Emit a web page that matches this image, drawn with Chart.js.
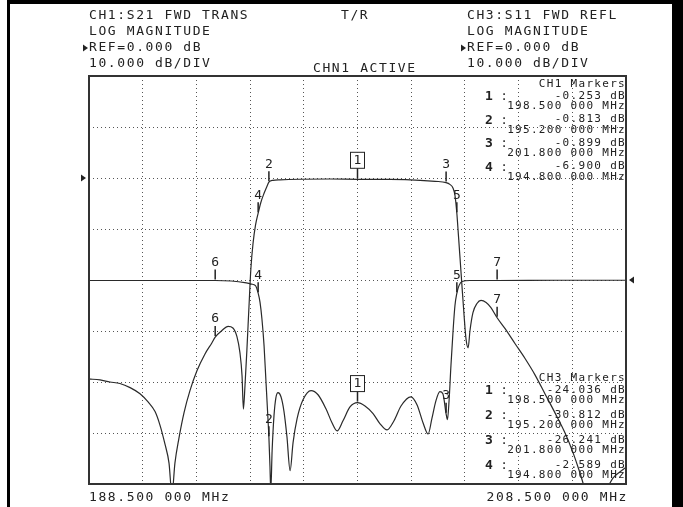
<!DOCTYPE html>
<html>
<head>
<meta charset="utf-8">
<script src="https://cdn.jsdelivr.net/npm/chart.js@4.4.1/dist/chart.umd.min.js"></script>
<style>
  html, body { margin: 0; padding: 0; background: #fff; }
  #wrap { position: relative; width: 683px; height: 507px; }
</style>
</head>
<body>
<div id="wrap"><canvas id="c" width="683" height="507"></canvas></div>
<script>
// CH1 S21 FWD TRANS, MHz / dB
const s21Freq = [188.5, 188.91, 189.28, 189.65, 190.03, 190.40, 190.70, 190.96, 191.14, 191.33, 191.48, 191.59,
  191.70, 191.85, 192.04, 192.26, 192.52, 192.82, 193.08, 193.2, 193.45, 193.68, 193.86, 194.01, 194.12, 194.20,
  194.25, 194.31, 194.38, 194.46, 194.53, 194.61, 194.70, 194.80, 194.90, 195.02, 195.13, 195.20, 195.35, 195.61,
  196.36, 197.48, 198.50, 199.71, 200.83, 201.39, 201.80, 201.94, 202.06, 202.13, 202.20, 202.26, 202.32, 202.39,
  202.47, 202.54, 202.62, 202.69, 202.80, 202.95, 203.10, 203.29, 203.47, 203.70, 203.99, 204.37, 204.74, 205.11,
  205.48, 205.86, 206.23, 206.53, 206.79, 207.01, 207.35, 207.72, 208.02, 208.28, 208.5];
const s21Db = [-39.4, -39.6, -40.0, -40.3, -41.1, -42.3, -43.9, -45.8, -48.4, -52.2, -55.9, -62,
  -55.9, -51.0, -46.0, -41.7, -37.8, -34.5, -32.3, -31.2, -29.9, -29.1, -29.4, -31.1, -34.2, -38.8,
  -45.3, -40.7, -33.8, -25.0, -17.7, -12.8, -9.3, -6.9, -4.8, -3.0, -1.6, -0.813, -0.45, -0.35,
  -0.25, -0.2, -0.253, -0.28, -0.45, -0.65, -0.899, -1.25, -2.0, -3.4, -6.9, -11.3, -15.8, -21.1,
  -27.0, -31.5, -33.3, -29.9, -26.4, -24.6, -24.0, -24.4, -25.4, -27.4, -29.5, -32.5, -35.4, -38.6,
  -42.3, -46.1, -50.0, -53.9, -57.9, -61.4, -62.4, -61.4, -58.8, -57.6, -56.7];

// CH3 S11 FWD REFL, MHz / dB
const s11Freq = [188.5, 190.0, 192.0, 193.2, 193.8, 194.3, 194.55, 194.70, 194.80, 194.87, 194.94, 195.02, 195.09,
  195.15, 195.20, 195.24, 195.27, 195.32, 195.39, 195.46, 195.54, 195.65, 195.76, 195.87, 195.99, 196.10, 196.25,
  196.47, 196.77, 197.03, 197.33, 197.55, 197.74, 197.96, 198.22, 198.50, 198.78, 199.08, 199.34, 199.60, 199.86,
  200.12, 200.49, 200.72, 200.94, 201.13, 201.27, 201.42, 201.57, 201.68, 201.80, 201.85, 201.91, 201.98, 202.06,
  202.13, 202.20, 202.28, 202.39, 202.69, 203.7, 206.0, 208.5];
const s11Db = [-0.1, -0.1, -0.1, -0.1, -0.2, -0.5, -0.8, -1.1, -2.589, -4.4, -7.6, -12.9, -19.8,
  -25.7, -30.812, -36.5, -41.4, -33.5, -26.6, -23.1, -22.1, -22.9, -25.7, -30.6, -37.4, -31.9, -27.2,
  -23.5, -21.7, -22.5, -25.3, -28.0, -29.6, -27.6, -24.9, -24.036, -24.7, -26.2, -28.2, -29.4, -27.6,
  -24.7, -22.9, -24.5, -28.0, -30.2, -27.2, -23.7, -21.9, -22.3, -26.241, -27.4, -23.7, -16.8, -9.9,
  -5.0, -2.6, -1.1, -0.3, -0.1, -0.1, -0.05, -0.05];

// markers (coupled between channels)
const markerNum = [1, 2, 3, 4, 5, 6, 7];
const markerFreq = [198.5, 195.2, 201.8, 194.8, 202.2, 193.2, 203.7];
const ch1MarkerDb = [-0.253, -0.813, -0.899, -6.9, -6.9, -31.2, -27.4];
const ch3MarkerDb = [-24.036, -30.812, -26.241, -2.589, -2.6, -0.1, -0.1];
const tableCount = 4;

const startLabel = '188.500 000 MHz';
const stopLabel = '208.500 000 MHz';
const headerCh1 = ['CH1:S21 FWD TRANS', 'LOG MAGNITUDE', 'REF=0.000 dB', '10.000 dB/DIV'];
const headerCh3 = ['CH3:S11 FWD REFL', 'LOG MAGNITUDE', 'REF=0.000 dB', '10.000 dB/DIV'];
const centerTop = 'T/R';
const activeText = 'CHN1 ACTIVE';

const MONO = '"DejaVu Sans Mono", "Liberation Mono", monospace';
const INK = '#222';

function txt(ctx, s, x, y, size, align, spacing, weight) {
  ctx.font = (weight || 'normal') + ' ' + size + 'px ' + MONO;
  ctx.letterSpacing = (spacing || 0) + 'px';
  ctx.textAlign = align || 'left';
  ctx.textBaseline = 'middle';
  ctx.fillStyle = INK;
  ctx.fillText(s, x, y);
  ctx.letterSpacing = '0px';
}

function tri(ctx, x, y, w, h, dir) {
  ctx.beginPath();
  if (dir > 0) { ctx.moveTo(x, y - h / 2); ctx.lineTo(x + w, y); ctx.lineTo(x, y + h / 2); }
  else { ctx.moveTo(x + w, y - h / 2); ctx.lineTo(x, y); ctx.lineTo(x + w, y + h / 2); }
  ctx.closePath();
  ctx.fillStyle = INK;
  ctx.fill();
}

const fmtDb = v => v.toFixed(3) + ' dB';
const fmtMHz = f => f.toFixed(3) + ' 000 MHz';

const analyzer = {
  id: 'analyzer',
  beforeDraw(chart) {
    const ctx = chart.ctx;
    ctx.save();
    ctx.fillStyle = '#fff';
    ctx.fillRect(0, 0, chart.width, chart.height);
    ctx.fillStyle = '#000';
    ctx.fillRect(7, 0, 3, chart.height);
    ctx.fillRect(7, 0, chart.width - 7, 4);
    ctx.fillRect(672, 0, 11, chart.height);
    ctx.restore();
  },
  afterDraw(chart) {
    const ctx = chart.ctx, a = chart.chartArea;
    const xs = chart.scales.x, y1 = chart.scales.y1, y3 = chart.scales.y3;
    ctx.save();
    // plot box
    ctx.strokeStyle = '#333';
    ctx.lineWidth = 2;
    ctx.strokeRect(a.left, a.top, a.right - a.left, a.bottom - a.top);

    // header
    const rows = [16, 32, 48, 64];
    headerCh1.forEach((s, i) => txt(ctx, s, 89, rows[i], 13, 'left', 1.6));
    headerCh3.forEach((s, i) => txt(ctx, s, 467, rows[i], 13, 'left', 1.6));
    tri(ctx, 83, 48, 5, 7, 1);
    tri(ctx, 461, 48, 5, 7, 1);
    txt(ctx, centerTop, 341, 16, 13, 'left', 1.6);
    txt(ctx, activeText, 313, 69, 13, 'left', 1.6);

    // reference level arrows
    tri(ctx, 81, y1.getPixelForValue(0), 5, 7, 1);
    tri(ctx, 629, y3.getPixelForValue(0), 5, 7, -1);

    // start / stop
    txt(ctx, startLabel, xs.left, 498, 13, 'left', 1.6);
    txt(ctx, stopLabel, xs.right + 2, 498, 13, 'right', 1.6);

    // markers on traces
    [[y1, ch1MarkerDb], [y3, ch3MarkerDb]].forEach(([sc, vals]) => {
      markerNum.forEach((n, i) => {
        const px = xs.getPixelForValue(markerFreq[i]);
        const py = sc.getPixelForValue(vals[i]);
        ctx.strokeStyle = '#222';
        ctx.lineWidth = 1.5;
        ctx.beginPath();
        ctx.moveTo(px, py - 1);
        ctx.lineTo(px, py - 11);
        ctx.stroke();
        if (n === 1) {
          ctx.lineWidth = 1;
          ctx.fillStyle = '#fff';
          ctx.fillRect(px - 7, py - 27, 14, 16);
          ctx.strokeRect(px - 7, py - 27, 14, 16);
          txt(ctx, String(n), px, py - 19, 13, 'center');
        } else {
          txt(ctx, String(n), px, py - 18, 13, 'center');
        }
      });
    });

    // marker tables
    const table = (title, vals, top, step) => {
      txt(ctx, title, 626, top, 11, 'right', 1.3);
      for (let i = 0; i < tableCount; i++) {
        const yv = top + 12 + i * step;
        txt(ctx, String(markerNum[i]), 489, yv + 1, 13, 'center', 0, 'bold');
        txt(ctx, ':', 504, yv + 1, 12, 'center');
        txt(ctx, fmtDb(vals[i]), 626, yv, 11, 'right', 1.3);
        txt(ctx, fmtMHz(markerFreq[i]), 626, yv + 10.5, 11, 'right', 1.3);
      }
    };
    table('CH1 Markers', ch1MarkerDb, 84, 23.5);
    table('CH3 Markers', ch3MarkerDb, 378, 25);
    ctx.restore();
  }
};

const toPts = (fs, ds) => fs.map((f, i) => ({ x: f, y: ds[i] }));

new Chart(document.getElementById('c'), {
  type: 'line',
  data: {
    datasets: [
      { label: 'S21', data: toPts(s21Freq, s21Db), yAxisID: 'y1', borderColor: '#2a2a2a', borderWidth: 1.2,
        pointRadius: 0, fill: false, cubicInterpolationMode: 'monotone' },
      { label: 'S11', data: toPts(s11Freq, s11Db), yAxisID: 'y3', borderColor: '#2a2a2a', borderWidth: 1.2,
        pointRadius: 0, fill: false, cubicInterpolationMode: 'monotone' },
    ],
  },
  options: {
    responsive: false,
    animation: false,
    devicePixelRatio: 1,
    layout: { padding: { left: 89, right: 57, top: 76, bottom: 23 } },
    plugins: { legend: { display: false }, tooltip: { enabled: false } },
    scales: {
      x: {
        type: 'linear', min: 188.5, max: 208.5,
        ticks: { display: false, stepSize: 2 },
        grid: { color: '#555', lineWidth: 1, drawTicks: false },
        border: { display: false, dash: [1, 3] },
      },
      y1: {
        type: 'linear', position: 'left', min: -60, max: 20,
        ticks: { display: false, stepSize: 10 },
        grid: { color: '#555', lineWidth: 1, drawTicks: false },
        border: { display: false, dash: [1, 3] },
      },
      y3: { type: 'linear', position: 'right', min: -40, max: 40, display: false },
    },
  },
  plugins: [analyzer],
});
</script>
</body>
</html>
